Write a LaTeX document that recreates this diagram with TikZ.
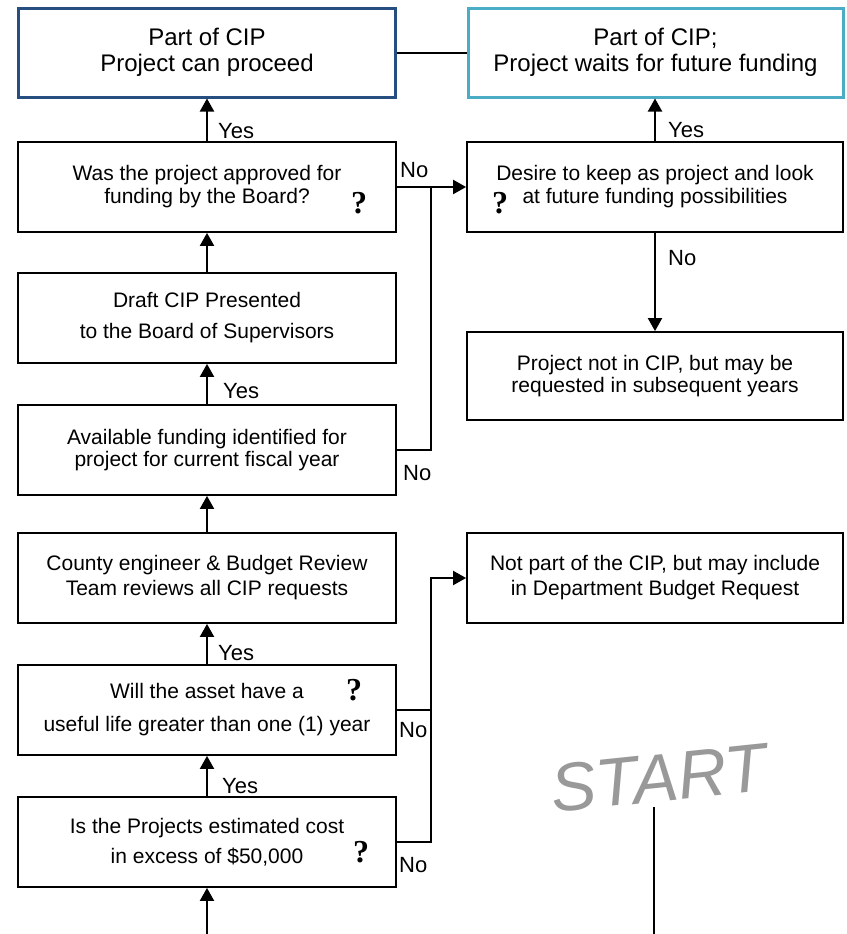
\documentclass[tikz,border=0pt]{standalone}
\usepackage{fontspec}
\setmainfont{Liberation Sans}
\newfontfamily\qfont{Liberation Serif}
\usetikzlibrary{arrows.meta}
\definecolor{darkblue}{RGB}{38,78,128}
\definecolor{tealbox}{RGB}{75,172,198}
\definecolor{startgray}{RGB}{153,153,153}
\begin{document}
\begin{tikzpicture}[x=1pt,y=-1pt,
 box/.style={draw, line width=1.8pt, minimum width=378pt, minimum height=90pt, inner sep=0pt, align=center, font=\fontsize{21}{23}\selectfont},
 rbox/.style={box, minimum width=376pt},
 topbox/.style={box, line width=3pt, minimum width=377pt, minimum height=88.5pt, font=\fontsize{24}{26}\selectfont},
 arr/.style={line width=2pt, -{Triangle[width=14pt,length=13pt]}},
 conn/.style={line width=2pt},
 lbl/.style={anchor=base west, inner sep=0pt, font=\fontsize{22}{22}\selectfont},
 qm/.style={inner sep=0pt, font=\qfont\bfseries\fontsize{32}{32}\selectfont}]
\useasboundingbox (0,0) rectangle (846,934);

% top boxes
\node[topbox, draw=darkblue] (A) at (207,52.75) {Part of CIP\\Project can proceed};
\node[topbox, draw=tealbox, minimum width=375pt] (B) at (655.5,52.75) {Part of CIP;\\Project waits for future funding};

% left column
\node[box] (C) at (207,187) {Was the project approved for\\funding by the Board?};
\node[box, font=\fontsize{21}{31}\selectfont] (F) at (207,318) {Draft CIP Presented\\to the Board of Supervisors};
\node[box, font=\fontsize{21}{22}\selectfont] (G) at (207,450) {Available funding identified for\\project for current fiscal year};
\node[box, font=\fontsize{21}{25}\selectfont] (H) at (207,578) {County engineer \& Budget Review\\Team reviews all CIP requests};
\node[box, font=\fontsize{21}{33}\selectfont] (J) at (207,710) {Will the asset have a\\useful life greater than one (1) year};
\node[box, font=\fontsize{21}{30}\selectfont] (K) at (207,842) {Is the Projects estimated cost\\in excess of \$50,000};

% right column
\node[rbox] (D) at (655,187) {Desire to keep as project and look\\at future funding possibilities};
\node[rbox, minimum height=88pt, font=\fontsize{21}{21.5}\selectfont] (E) at (655,376) {Project not in CIP, but may be\\requested in subsequent years};
\node[rbox, font=\fontsize{21}{25}\selectfont] (I) at (655,578) {Not part of the CIP, but may include\\in Department Budget Request};

% question marks
\node[qm] (qC) at (359,203) {?};
\node[qm] (qD) at (500,203) {?};
\node[qm] (qJ) at (354,690) {?};
\node[qm] (qK) at (361,852) {?};

% START
\node[text=startgray, rotate=6, inner sep=0pt, font=\fontsize{68}{68}\selectfont\itshape] (start) at (659,778) {START};
\coordinate (s1) at (654,807);
\coordinate (s2) at (654,934);
\coordinate (k0) at (207,934);
\coordinate (jx) at (431,0);

% connectors
\draw[conn] (A.east) -- (B.west);
\draw[arr] (C.north) -- (A.south);
\draw[arr] (D.north) -- (D.north |- B.south);
\draw[arr] (C.east) -- (D.west);
\draw[arr] (D.south) -- (E.north);
\draw[arr] (F.north) -- (C.south);
\draw[arr] (G.north) -- (F.south);
\draw[conn] (G.east) -- (G.east -| jx) -- (C.east -| jx);
\draw[arr] (H.north) -- (G.south);
\draw[arr] (J.north) -- (H.south);
\draw[arr] (J.east) -- (J.east -| jx) |- (I.west);
\draw[arr] (K.north) -- (J.south);
\draw[conn] (K.east) -- (K.east -| jx) -- (J.east -| jx);
\draw[arr] (k0) -- (K.south);
\draw[conn] (s1) -- (s2);

% labels
\node[lbl] (y1) at (218,138) {Yes};
\node[lbl] (y2) at (668,137) {Yes};
\node[lbl] (y3) at (223,398) {Yes};
\node[lbl] (y4) at (218,660) {Yes};
\node[lbl] (y5) at (222,793) {Yes};
\node[lbl] (n1) at (400,177) {No};
\node[lbl] (n2) at (668,265) {No};
\node[lbl] (n3) at (403,480) {No};
\node[lbl] (n4) at (399,737) {No};
\node[lbl] (n5) at (399,872) {No};
\end{tikzpicture}
\end{document}
